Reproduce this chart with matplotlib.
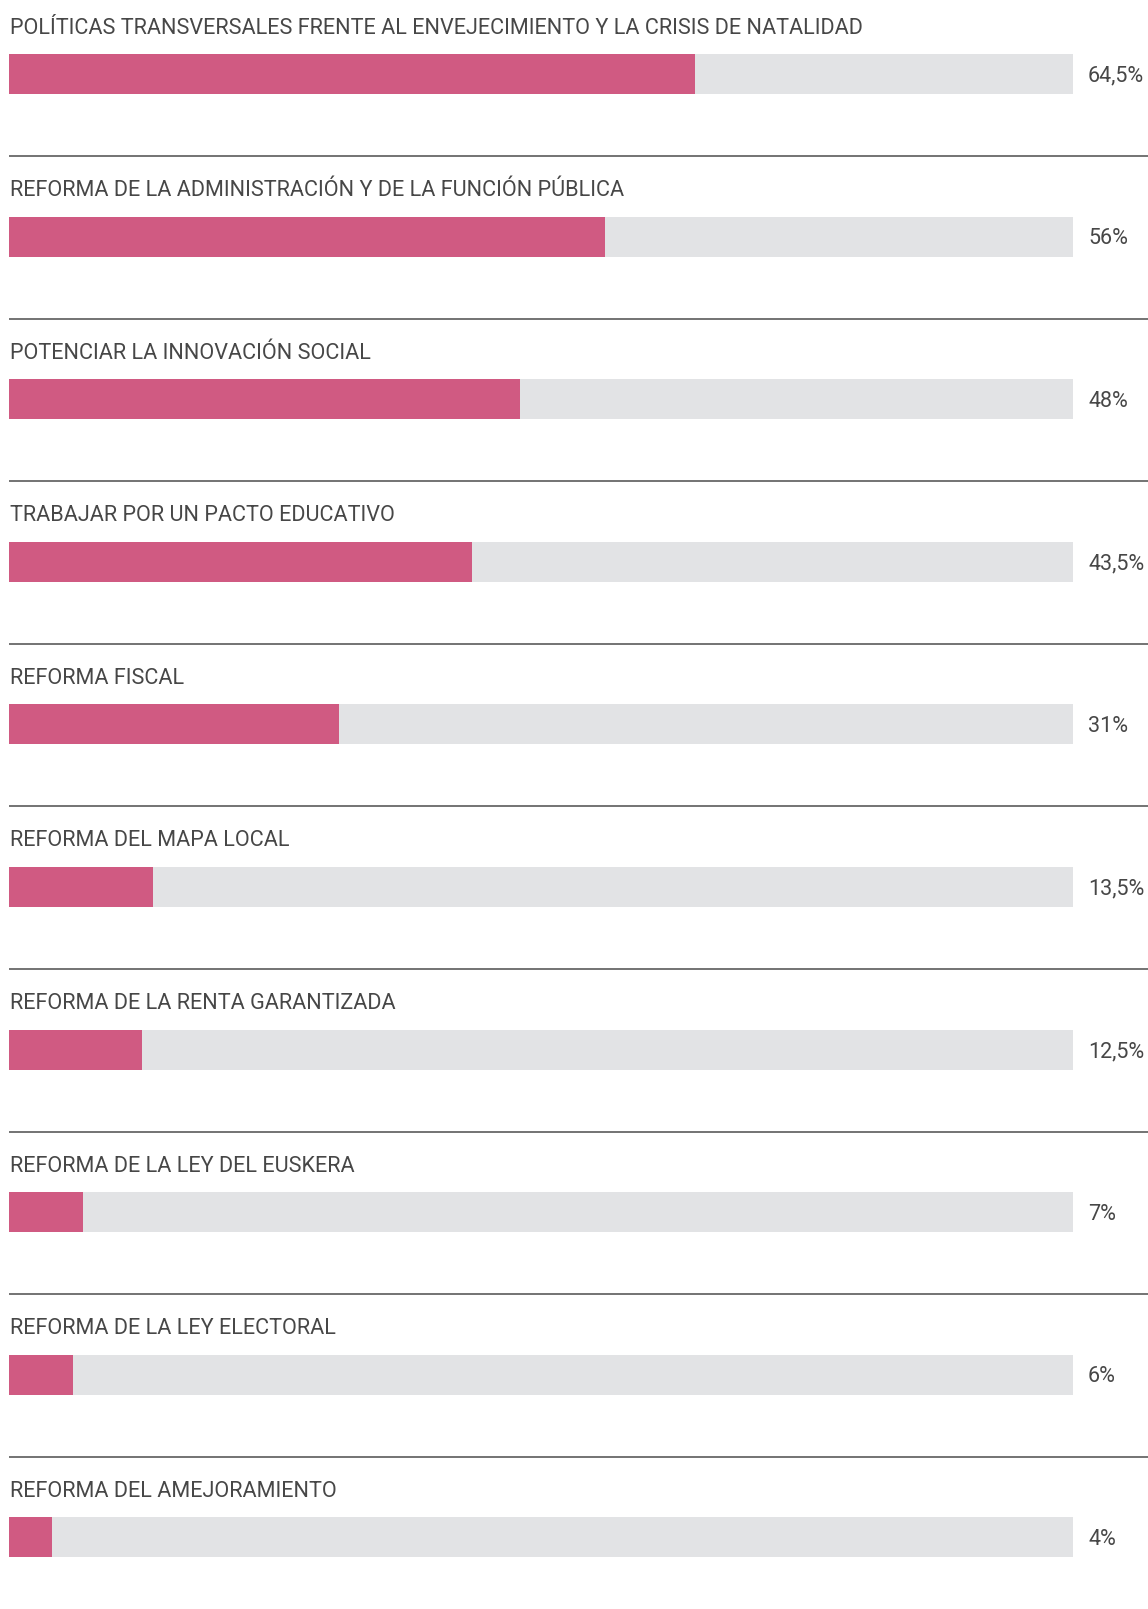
import matplotlib
matplotlib.use("Agg")
import matplotlib.pyplot as plt

categories = [
    "POLÍTICAS TRANSVERSALES FRENTE AL ENVEJECIMIENTO Y LA CRISIS DE NATALIDAD",
    "REFORMA DE LA ADMINISTRACIÓN Y DE LA FUNCIÓN PÚBLICA",
    "POTENCIAR LA INNOVACIÓN SOCIAL",
    "TRABAJAR POR UN PACTO EDUCATIVO",
    "REFORMA FISCAL",
    "REFORMA DEL MAPA LOCAL",
    "REFORMA DE LA RENTA GARANTIZADA",
    "REFORMA DE LA LEY DEL EUSKERA",
    "REFORMA DE LA LEY ELECTORAL",
    "REFORMA DEL AMEJORAMIENTO",
]
values = [64.5, 56, 48, 43.5, 31, 13.5, 12.5, 7, 6, 4]
value_labels = ["64,5%", "56%", "48%", "43,5%", "31%", "13,5%", "12,5%", "7%", "6%", "4%"]

W, H = 1148, 1609
DPI = 100
fig = plt.figure(figsize=(W / DPI, H / DPI), dpi=DPI)
fig.patch.set_facecolor("white")

left_px, track_px = 9, 1064
ax = fig.add_axes([left_px / W, 0, track_px / W, 1])
row_px = 162.6
first_center = 74
ax.set_xlim(0, 100)
ax.set_ylim((H - first_center) / row_px, -first_center / row_px)
ax.axis("off")

pink = "#D05A82"
gray = "#E2E3E5"
txt = "#474747"
font = "Roboto"
bar_h = 40 / row_px

n = len(categories)
ys = list(range(n))
ax.barh(ys, [100] * n, height=bar_h, color=gray, left=0)
ax.barh(ys, values, height=bar_h, color=pink, left=0)

x_right = (W - left_px) / track_px * 100
x_val = (1088 - left_px) / track_px * 100
for i, (cat, lab) in enumerate(zip(categories, value_labels)):
    ax.text(0.1, i - 46 / row_px, cat, ha="left", va="center", fontsize=15.6,
            color=txt, family=font)
    ax.text(x_val, i + 2 / row_px, lab, ha="left", va="center", fontsize=15.5,
            color=txt, family=font, clip_on=False)
    if i < n - 1:
        ax.hlines(i + 82 / row_px, 0, x_right, color="#4d4d4d", lw=1.1, clip_on=False)

fig.savefig("out.png", dpi=DPI, facecolor="white")
